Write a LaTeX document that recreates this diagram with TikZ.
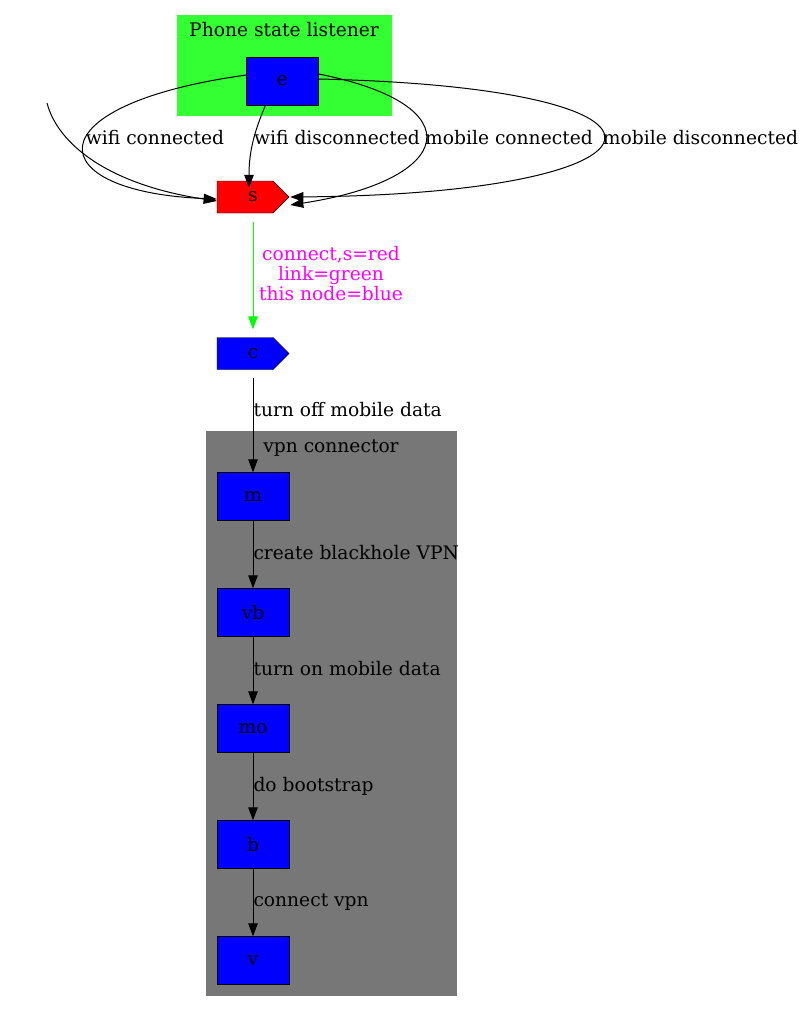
\documentclass[tikz,border=0pt]{standalone}
\usepackage{fontspec}
\setmainfont{DejaVu Serif}
\usetikzlibrary{arrows.meta,shapes.symbols}

\definecolor{listenergreen}{RGB}{51,255,51}
\definecolor{vpngray}{RGB}{119,119,119}
\definecolor{linkgreen}{RGB}{0,255,0}
\definecolor{labelmagenta}{RGB}{255,0,255}

\tikzset{
    statebox/.style={draw=black, fill=blue, minimum width=72pt, minimum height=48pt, inner sep=0pt},
    cdsbox/.style={draw=black, signal, signal to=east, signal from=nowhere, signal pointer angle=90, minimum width=72pt, minimum height=32pt, inner sep=0pt},
    edge/.style={line width=1pt, -{Triangle[length=13pt,width=9.5pt]}},
    edgelabel/.style={inner sep=0pt},
}

\begin{document}
\begin{tikzpicture}[x=1pt, y=-1pt, font=\fontsize{18.67}{20}\selectfont]
\useasboundingbox (0,0) rectangle (804,1012);

%clusters

\fill[listenergreen] (177,15) rectangle (392,116);
\node[inner sep=0pt] (listener) at (284,30) {Phone state listener};
\fill[vpngray] (206,431) rectangle (457,996);
\node[inner sep=0pt] (vpnlabel) at (331,448) {vpn connector};

%noeuds

\node[statebox] (e) at (282.5,81) {e};
\node[cdsbox, fill=red] (s) at (245,197) {\hspace{16pt}s};
\node[cdsbox, fill=blue] (c) at (245,353.5) {\hspace{16pt}c};
\node[statebox] (m) at (253,496.5) {m};
\node[statebox] (vb) at (253,612.5) {vb};
\node[statebox] (mo) at (253,728.5) {mo};
\node[statebox] (b) at (253,844.5) {b};
\node[statebox] (v) at (253,960.5) {v};

%transitions du listener

\coordinate (start) at (47,103);
\draw[edge] (start) .. controls (58,145) and (110,185) .. ([yshift=-4]s.west);
\draw[edge] ([yshift=6]e.west) .. controls (30,105) and (40,192) .. ([yshift=-2]s.west)
    node[edgelabel] (lwc) at (155,138) {wifi connected};
\draw[edge] ([xshift=-17]e.south) .. controls (255,130) and (249,150) .. ([xshift=4,yshift=-7]s.north)
    node[edgelabel] (lwd) at (337,138) {wifi disconnected};
\draw[edge] ([yshift=7]e.east) .. controls (475,105) and (455,180) .. ([xshift=1,yshift=-8]s.east)
    node[edgelabel] (lmc) at (509,138) {mobile connected};
\draw[edge] ([yshift=2]e.east) .. controls (720,88) and (685,194) .. ([xshift=1]s.east)
    node[edgelabel] (lmd) at (700.5,138) {mobile disconnected};

%connexion

\draw[edge, draw=linkgreen, fill=linkgreen, shorten <=9pt, shorten >=8pt] ([xshift=8]s.south) -- ([xshift=8]c.north)
    node[edgelabel, align=center, text=labelmagenta] (lcon) at (331,274) {connect,s=red\\link=green\\this node=blue};
\draw[edge, shorten <=8pt] ([xshift=8]c.south) -- (m.north)
    node[edgelabel, anchor=west] (loff) at (253,410) {turn off mobile data};

%vpn connector

\draw[edge] (m) -- (vb) node[edgelabel, anchor=west] (lbh) at (253,553) {create blackhole VPN};
\draw[edge] (vb) -- (mo) node[edgelabel, anchor=west] (lon) at (253,669) {turn on mobile data};
\draw[edge] (mo) -- (b) node[edgelabel, anchor=west] (lboot) at (253,786) {do bootstrap};
\draw[edge] (b) -- (v) node[edgelabel, anchor=west] (lvpn) at (253,902) {connect vpn};
\end{tikzpicture}
\end{document}
